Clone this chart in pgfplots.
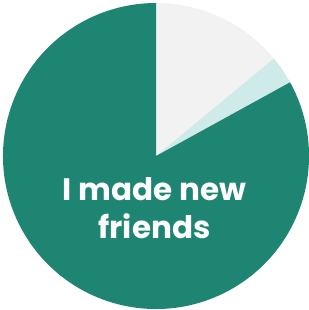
\documentclass[border=0pt]{standalone}
\usepackage{pgfplots}
\pgfplotsset{compat=1.18}
\usepackage{pgfplotstable}
\usepackage{fontspec}
\setmainfont{Poppins}
\definecolor{cteal}{HTML}{1F8573}
\definecolor{cgrey}{HTML}{F2F2F2}
\definecolor{clight}{HTML}{CFEBE9}
\pgfplotstableread{
label value
no 14
other 3
friends 83
}\piedata
\begin{document}
\begin{tikzpicture}
\pgfplotstablegetelem{0}{value}\of\piedata\let\va\pgfplotsretval
\pgfplotstablegetelem{1}{value}\of\piedata\let\vb\pgfplotsretval
\pgfplotstablegetelem{2}{value}\of\piedata\let\vc\pgfplotsretval
\pgfmathsetmacro\aA{90}
\pgfmathsetmacro\aB{90-3.6*\va}
\pgfmathsetmacro\aC{\aB-3.6*\vb}
\pgfmathsetmacro\aD{\aC-3.6*\vc}
\begin{axis}[hide axis, scale only axis, width=309bp, height=310bp,
  xmin=-1.0196, xmax=1.0, ymin=-1.0065, ymax=1.0196, clip=false]
\addplot[draw=none] coordinates {(0,0)};
\path (rel axis cs:0,0) (rel axis cs:1,1);
\fill[cgrey, overlay] (axis cs:0,0) -- ([shift={(\aA:153bp)}]axis cs:0,0) arc[start angle=\aA, end angle=\aB, radius=153bp] -- cycle;
\fill[clight, overlay] (axis cs:0,0) -- ([shift={(\aB:153bp)}]axis cs:0,0) arc[start angle=\aB, end angle=\aC, radius=153bp] -- cycle;
\fill[cteal, overlay] (axis cs:0,0) -- ([shift={(\aC:153bp)}]axis cs:0,0) arc[start angle=\aC, end angle=\aD, radius=153bp] -- cycle;
\node[overlay, text=white, font=\fontsize{31bp}{38bp}\selectfont\bfseries, align=center, anchor=base] at (axis cs:-0.01,-0.536) {I made new\\friends};
\end{axis}
\end{tikzpicture}
\end{document}
